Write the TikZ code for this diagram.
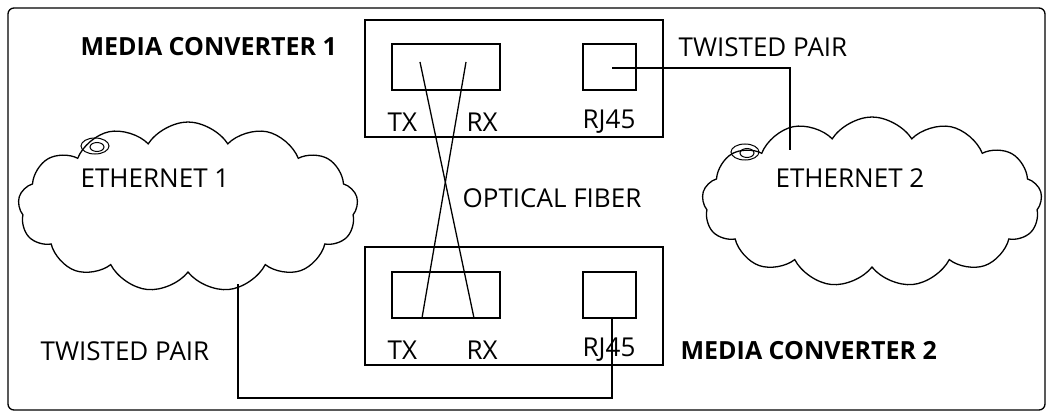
\documentclass[tikz,border=0pt]{standalone}
\usepackage{fontspec}
\setmainfont{Open Sans}
\usetikzlibrary{shapes.symbols}
\begin{document}
\begin{tikzpicture}[x=1pt,y=-1pt,line width=1.3pt,
  txt/.style={anchor=west,font=\fontsize{26}{26}\selectfont,inner sep=0},
  btxt/.style={txt,font=\fontsize{25}{25}\selectfont\bfseries},
  box/.style={draw,inner sep=0},
  cl/.style={draw,cloud,cloud puffs=13,cloud puff arc=115,aspect=2,inner sep=0}]
\useasboundingbox (0,0) rectangle (1053,417);
\draw[rounded corners=6] (8,8) rectangle (1045,410);
% clouds
\node[cl,minimum width=340,minimum height=170] (c1) at (188,207) {};
\node[cl,minimum width=340,minimum height=170] (c2) at (872,202) {};
\draw[line width=1pt] (95,146) ellipse (14 and 8) (97,147) ellipse (7 and 4.5);
\draw[line width=1pt] (745,152) ellipse (14 and 8) (747,153) ellipse (7 and 4.5);
% converters
\node[box,minimum width=298,minimum height=117] (m1) at (514,78.5) {};
\node[box,minimum width=298,minimum height=118] (m2) at (514,306) {};
\node[box,minimum width=108,minimum height=46] (tr1) at (446,67) {};
\node[box,minimum width=53,minimum height=46] (rj1) at (609.5,67) {};
\node[box,minimum width=108,minimum height=46] (tr2) at (446,295) {};
\node[box,minimum width=53,minimum height=46] (rj2) at (609.5,295) {};
\node[txt] (t1) at (387,122) {TX};
\node[txt] (r1) at (466,122) {RX};
\node[txt] (j1) at (582,122) {RJ45};
\node[txt] (t2) at (387,350) {TX};
\node[txt] (r2) at (466,350) {RX};
\node[txt] (j2) at (582,350) {RJ45};
% fibers
\coordinate (a1) at (420,62); \coordinate (a2) at (474,318);
\coordinate (b1) at (466,62); \coordinate (b2) at (422,318);
\draw (a1) -- (a2); \draw (b1) -- (b2);
% twisted pairs
\coordinate (p1) at (612,68); \coordinate (p2) at (790,150);
\draw (p1) -- (p1 -| p2) -- (p2);
\coordinate (q1) at (238,284); \coordinate (q2) at (612,318);
\draw (q1) -- (238,398) -- (612,398) -- (q2);
% labels
\node[btxt] (l1) at (80,47) {MEDIA CONVERTER 1};
\node[txt] (l2) at (678,47) {TWISTED PAIR};
\node[txt] (l3) at (80,178) {ETHERNET 1};
\node[txt] (l4) at (462,198) {OPTICAL FIBER};
\node[txt] (l5) at (775,178) {ETHERNET 2};
\node[txt] (l6) at (40,351) {TWISTED PAIR};
\node[btxt] (l7) at (680,351) {MEDIA CONVERTER 2};
\end{tikzpicture}
\end{document}
